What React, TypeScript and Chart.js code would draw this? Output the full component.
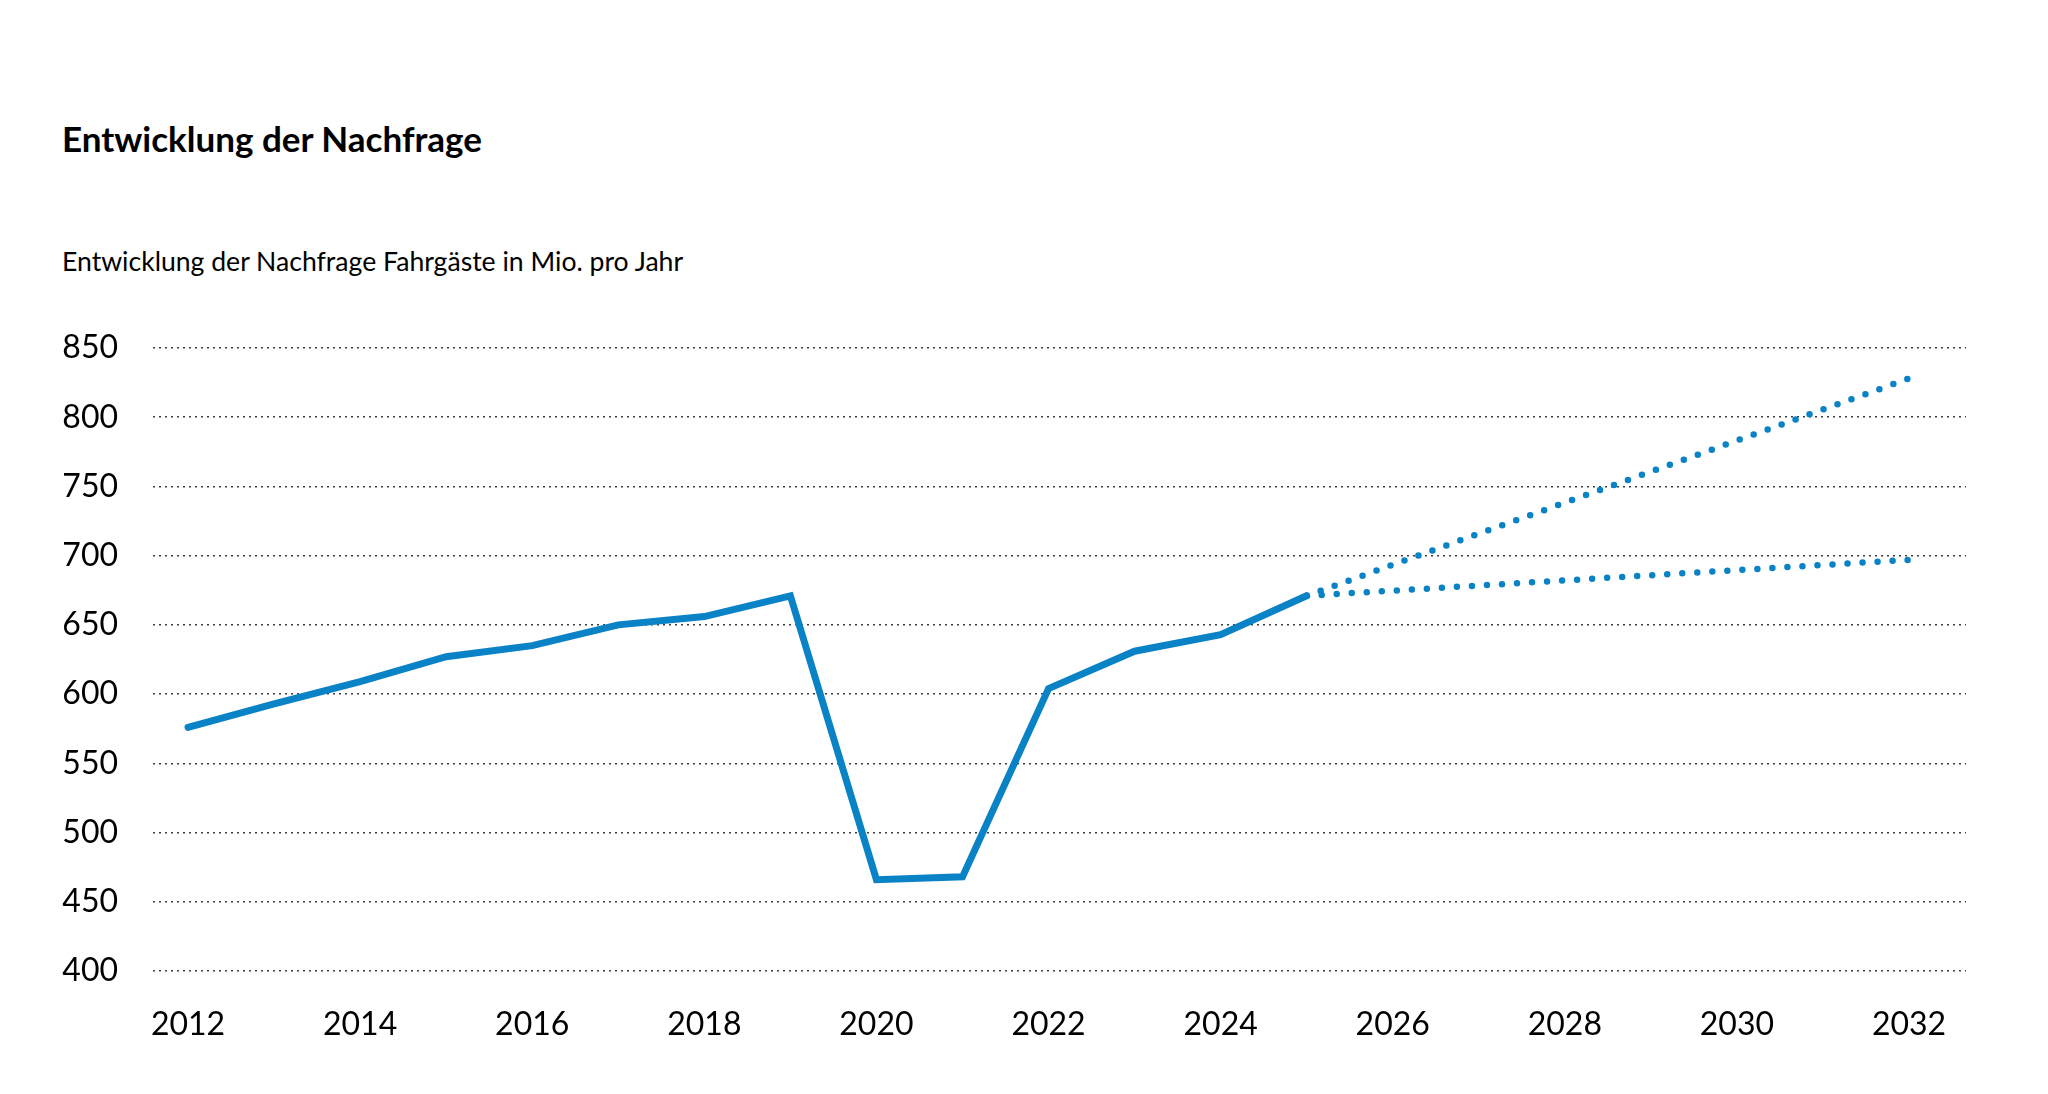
import React, { useEffect, useRef } from "react";
import { Chart, registerables } from "chart.js";

Chart.register(...registerables);

// Texts
const TITLE = "Entwicklung der Nachfrage";
const SUBTITLE = "Entwicklung der Nachfrage Fahrgäste in Mio. pro Jahr";

// Passengers per year (millions)
const years = [2012, 2013, 2014, 2015, 2016, 2017, 2018, 2019, 2020, 2021, 2022, 2023, 2024, 2025];
const passengers = [576, 593, 609, 627, 635, 650, 656, 671, 466, 468, 604, 631, 643, 671];

// Forecast corridor
const forecastYears = [2025, 2032];
const forecastHigh = [671, 828];
const forecastLow = [671, 697];

// Axis ticks
const xTicks = [2012, 2014, 2016, 2018, 2020, 2022, 2024, 2026, 2028, 2030, 2032];
const yTicks = [400, 450, 500, 550, 600, 650, 700, 750, 800, 850];

const BLUE = "#0a82c6";
const FONT = "Lato, 'Open Sans', sans-serif";
const WIDTH = 2048;
const HEIGHT = 1094;

const toPoints = (xs: number[], ys: number[]) => xs.map((x, i) => ({ x, y: ys[i] }));

export default function App() {
  const canvasRef = useRef<HTMLCanvasElement | null>(null);

  useEffect(() => {
    const canvas = canvasRef.current;
    if (!canvas) return;

    const tickFont = { family: FONT, size: 32, weight: "normal" as const };

    const chart = new Chart(canvas, {
      type: "line",
      data: {
        datasets: [
          {
            label: "Fahrgäste",
            data: toPoints(years, passengers),
            borderColor: BLUE,
            borderWidth: 7,
            borderCapStyle: "round",
            borderJoinStyle: "miter",
            pointRadius: 0,
            tension: 0,
            fill: false,
          },
          {
            label: "Prognose hoch",
            data: toPoints(forecastYears, forecastHigh),
            borderColor: BLUE,
            borderWidth: 6.5,
            borderDash: [0, 14.85],
            borderCapStyle: "round",
            pointRadius: 0,
            tension: 0,
            fill: false,
          },
          {
            label: "Prognose tief",
            data: toPoints(forecastYears, forecastLow),
            borderColor: BLUE,
            borderWidth: 6.5,
            borderDash: [0, 15.05],
            borderCapStyle: "round",
            pointRadius: 0,
            tension: 0,
            fill: false,
          },
        ],
      },
      options: {
        responsive: false,
        animation: false,
        devicePixelRatio: 1,
        layout: { padding: { left: 0, right: 82, top: 348, bottom: 0 } },
        plugins: {
          legend: { display: false },
          tooltip: { enabled: false },
          title: { display: false },
        },
        scales: {
          x: {
            type: "linear",
            min: 2011.593,
            max: 2032.662,
            grid: { display: false, drawTicks: false },
            border: { display: false },
            afterBuildTicks: (scale: any) => {
              scale.ticks = xTicks.map((value) => ({ value }));
            },
            afterFit: (scale: any) => {
              scale.height = 123;
            },
            ticks: {
              padding: 34,
              autoSkip: false,
              maxRotation: 0,
              color: "#000",
              font: tickFont,
              callback: (v: any) => String(v),
            },
          },
          y: {
            type: "linear",
            min: yTicks[0],
            max: yTicks[yTicks.length - 1],
            afterBuildTicks: (scale: any) => {
              scale.ticks = yTicks.map((value) => ({ value }));
            },
            afterFit: (scale: any) => {
              scale.width = 153;
            },
            grid: { color: "rgba(40,40,40,0.9)", lineWidth: 1.5, drawTicks: false },
            border: { display: false, dash: [2, 4] },
            ticks: {
              padding: 35,
              color: "#000",
              font: tickFont,
              callback: (v: any) => String(v),
            },
          },
        },
      },
    });

    return () => chart.destroy();
  }, []);

  return (
    <div
      style={{
        position: "fixed",
        left: 0,
        top: 0,
        width: WIDTH,
        height: HEIGHT,
        background: "#fff",
        overflow: "hidden",
      }}
    >
      <div
        style={{
          position: "absolute",
          left: 62,
          top: 121,
          fontFamily: FONT,
          fontWeight: 700,
          fontSize: 35,
          lineHeight: "35px",
          color: "#000",
          whiteSpace: "nowrap",
        }}
      >
        {TITLE}
      </div>
      <div
        style={{
          position: "absolute",
          left: 62,
          top: 248,
          fontFamily: FONT,
          fontSize: 26.6,
          lineHeight: "26px",
          color: "#000",
          whiteSpace: "nowrap",
        }}
      >
        {SUBTITLE}
      </div>
      <canvas
        ref={canvasRef}
        width={WIDTH}
        height={HEIGHT}
        style={{ position: "absolute", left: 0, top: 0, width: WIDTH, height: HEIGHT }}
      />
    </div>
  );
}
